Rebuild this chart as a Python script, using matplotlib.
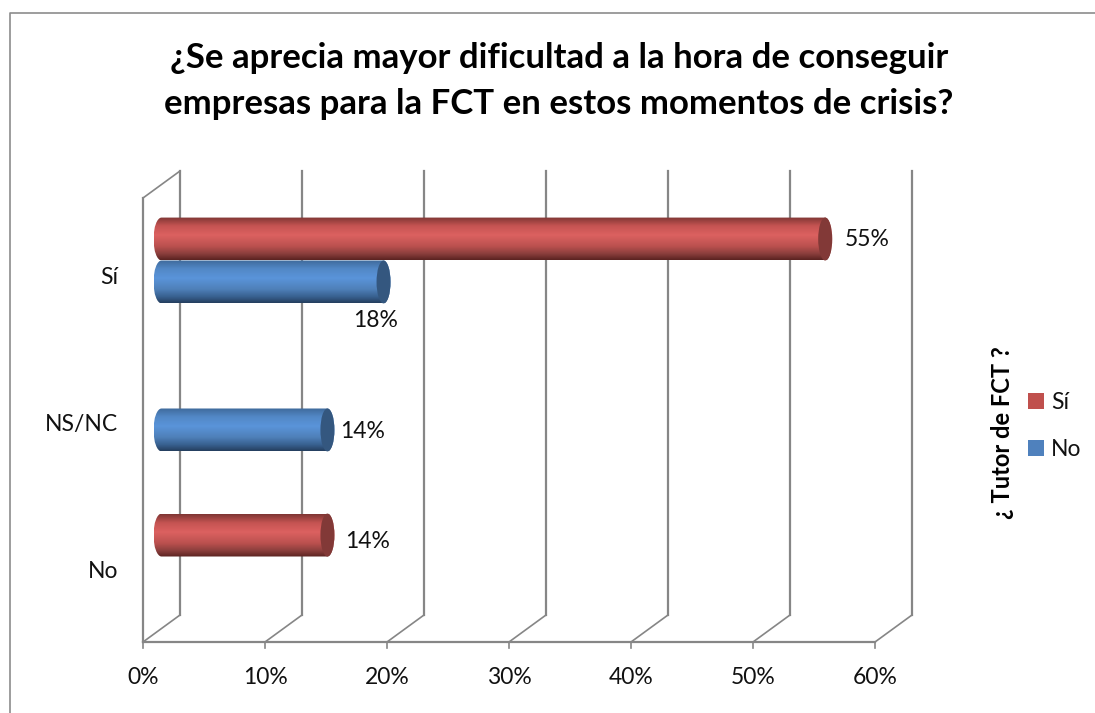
import matplotlib
matplotlib.use("Agg")
import matplotlib.pyplot as plt
import numpy as np
from matplotlib.patches import Ellipse, Patch, PathPatch
from matplotlib.path import Path
from matplotlib.lines import Line2D

plt.rcParams['font.family'] = ['Lato', 'DejaVu Sans']

# data
categories = ["No", "NS/NC", "Sí"]
x_ticks = [0, 10, 20, 30, 40, 50, 60]
si_cats = [2, 0]
si_values = [54.4, 13.6]
si_labels = ["55%", "14%"]
no_cats = [2, 1]
no_values = [18.2, 13.6]
no_labels = ["18%", "14%"]
title = "¿Se aprecia mayor dificultad a la hora de conseguir\nempresas para la FCT en estos momentos de crisis?"

W, H = 1095, 713
PX = 732 / 60   # px per 1%
PY = 148        # px per category
DX, DY = 37 / PX, 27 / PY   # wall depth
GRAY = "#868686"
FS = 16.5

fig = plt.figure(figsize=(W / 100, H / 100), dpi=100)
ax = fig.add_axes([143 / W, 1 - 642 / H, 769 / W, 471 / H])
ax.set_xlim(0, 769 / PX)
ax.set_ylim(-0.5, -0.5 + 471 / PY)
ax.axis("off")

y_top = 2.5


def wall_line(xs, ys, lw=1.6):
    ax.plot(xs, ys, color=GRAY, lw=lw, clip_on=False, solid_capstyle="projecting", zorder=1)


# walls and grid
for t in x_ticks:
    wall_line([t, t + DX], [-0.5, -0.5 + DY], lw=1.2)
    wall_line([t + DX, t + DX], [-0.5 + DY, y_top + DY])
    wall_line([t, t], [-0.5, -0.5 - 6 / PY], lw=1.2)
    ax.text(t, -0.5 - 35 / PY, f"{t}%", ha="center", va="center", fontsize=FS, color="#111111")
wall_line([0, 60], [-0.5, -0.5])
wall_line([0, 0], [-0.5, y_top])
wall_line([0, DX], [y_top, y_top + DY], lw=1.2)

for i, c in enumerate(categories):
    ax.text(-25 / PX, i - (3 + i) / PY, c, ha="right", va="center", fontsize=FS, color="#111111")


def cylinder(cat, val, y_shift, cols, stops, cap):
    x0 = DX / 2
    x1 = x0 + val
    yc = cat + DY / 2 + y_shift - 2 / PY
    h = 0.29
    rx = 7 / PX
    rl = 8 / PX
    k = 0.5523
    top, bot = yc + h / 2, yc - h / 2
    # outline: rect with elliptical ends
    verts = [(x0, bot), (x1, bot),
             (x1 + rx * k, bot), (x1 + rx, yc - h / 2 * k), (x1 + rx, yc),
             (x1 + rx, yc + h / 2 * k), (x1 + rx * k, top), (x1, top),
             (x0, top),
             (x0 - rl * k, top), (x0 - rl, yc + h / 2 * k), (x0 - rl, yc),
             (x0 - rl, yc - h / 2 * k), (x0 - rl * k, bot), (x0, bot),
             (x0, bot)]
    codes = [Path.MOVETO, Path.LINETO, Path.CURVE4, Path.CURVE4, Path.CURVE4,
             Path.CURVE4, Path.CURVE4, Path.CURVE4, Path.LINETO,
             Path.CURVE4, Path.CURVE4, Path.CURVE4, Path.CURVE4, Path.CURVE4, Path.CURVE4,
             Path.CLOSEPOLY]
    shape = PathPatch(Path(verts, codes), fc="none", ec="none", transform=ax.transData)
    ax.add_patch(shape)
    t = np.linspace(0, 1, 64)
    grad = np.stack([np.interp(t, stops, [c[j] for c in cols]) for j in range(3)], axis=1)[:, None, :]
    im = ax.imshow(grad, extent=[x0 - rl, x1 + rx, bot, top], aspect="auto", origin="upper", zorder=3)
    im.set_clip_path(shape)
    ax.add_patch(Ellipse((x1, yc), 2 * rx, h, fc=cap, ec="none", zorder=4))
    ax.set_xlim(0, 769 / PX)
    ax.set_ylim(-0.5, -0.5 + 471 / PY)


def rgb(s):
    return matplotlib.colors.to_rgb(s)


red = [rgb("#803634"), rgb("#c55452"), rgb("#dc6160"), rgb("#bb514f"), rgb("#8a3e3c"), rgb("#5c2422")]
blue = [rgb("#3f6a9c"), rgb("#5288c6"), rgb("#5a94da"), rgb("#4f80b9"), rgb("#38608f"), rgb("#253f60")]
stops = [0, 0.2, 0.42, 0.68, 0.86, 1]

for cat, val in zip(si_cats, si_values):
    cylinder(cat, val, 0.145, red, stops, "#823937")
for cat, val in zip(no_cats, no_values):
    cylinder(cat, val, -0.145, blue, stops, "#34577f")

# value labels (pixels from the bar end)
si_off = [(35, -2), (33, -8)]
no_off = [(-15, -41), (28, -4)]
for cat, val, lab, off in zip(si_cats, si_values, si_labels, si_off):
    ax.text(DX / 2 + val + off[0] / PX + 7 / PX, cat + DY / 2 + 0.145 + off[1] / PY, lab,
            ha="center", va="center", fontsize=FS, color="#111111", zorder=5)
for cat, val, lab, off in zip(no_cats, no_values, no_labels, no_off):
    ax.text(DX / 2 + val + off[0] / PX + 7 / PX, cat + DY / 2 - 0.145 + off[1] / PY, lab,
            ha="center", va="center", fontsize=FS, color="#111111", zorder=5)

fig.text(559 / W, 1 - 81 / H, title, ha="center", va="center", fontsize=25, fontweight="bold",
         color="black", linespacing=1.55)
fig.text(1003 / W, 1 - 433 / H, "¿ Tutor de FCT ?", rotation=90, ha="center", va="center",
         fontsize=17, fontweight="bold", color="black")

handles = [Patch(fc="#c0504d", ec="none", label="Sí"), Patch(fc="#4f81bd", ec="none", label="No")]
fig.legend(handles=handles, loc="center left", bbox_to_anchor=(1028 / W, 1 - 426 / H), frameon=False,
           fontsize=FS, handlelength=0.7, handleheight=0.7, handletextpad=0.3, labelspacing=1.1,
           borderpad=0, borderaxespad=0, labelcolor="#111111")

# outer chart border
fig.add_artist(Line2D([10 / W, 10 / W, 1], [0, 1 - 13 / H, 1 - 13 / H], color="#8c8c8c", lw=1.2))

fig.savefig("out.png", dpi=100)
